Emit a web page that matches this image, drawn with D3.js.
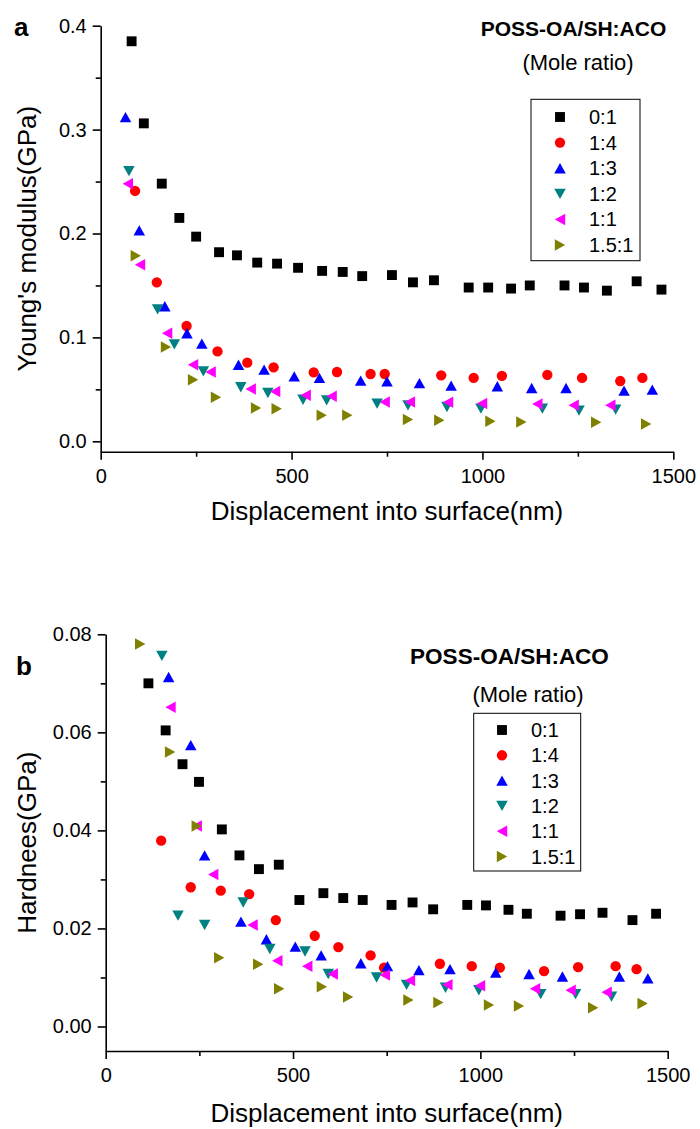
<!DOCTYPE html>
<html><head><meta charset="utf-8">
<script src="https://cdn.jsdelivr.net/npm/d3@7/dist/d3.min.js"></script>
<style>
html,body{margin:0;padding:0;background:#fff;}
svg text{font-family:"Liberation Sans",Arial,sans-serif;fill:#000;}
</style></head>
<body><svg id="chart" width="700" height="1129"></svg>
<script>
// ---------- data ----------
const seriesLabels = ["0:1","1:4","1:3","1:2","1:1","1.5:1"];
const seriesColors = ["#000000","#ff0000","#0000ff","#008080","#ff00ff","#808000"];
const seriesShapes = ["square","circle","up","down","left","right"];

// Panel a: Young's modulus (GPa)
const aX_0_1 = [81,113,160,206,250,310,357,410,462,517,580,634,685,763,818,873,964,1015,1075,1124,1215,1266,1326,1404,1469];
const aY_0_1 = [0.385,0.306,0.248,0.215,0.197,0.182,0.179,0.172,0.171,0.167,0.164,0.163,0.159,0.160,0.153,0.155,0.148,0.148,0.147,0.150,0.150,0.148,0.145,0.154,0.146];
const aX_1_4 = [90,147,225,306,384,453,558,619,707,744,892,977,1051,1170,1261,1361,1419];
const aY_1_4 = [0.241,0.153,0.111,0.0865,0.0757,0.0712,0.0663,0.0667,0.0648,0.0648,0.0635,0.061,0.063,0.064,0.061,0.058,0.061];
const aX_1_3 = [65,101,168,226,265,361,428,507,573,681,750,835,918,1039,1129,1219,1371,1445];
const aY_1_3 = [0.312,0.203,0.130,0.104,0.094,0.0737,0.069,0.0625,0.061,0.0584,0.0577,0.056,0.0536,0.053,0.0513,0.0513,0.0488,0.0497];
const aX_1_2 = [74,149,193,269,367,438,530,592,724,805,907,996,1157,1253,1349];
const aY_1_2 = [0.260,0.127,0.0933,0.0673,0.052,0.0465,0.040,0.0394,0.0363,0.0346,0.033,0.0314,0.0314,0.0295,0.0305];
const aX_1_1 = [71,103,174,242,288,393,457,537,605,744,810,910,999,1144,1239,1335];
const aY_1_1 = [0.248,0.170,0.104,0.0737,0.0667,0.0504,0.048,0.0443,0.0433,0.0379,0.0379,0.0375,0.0363,0.036,0.0346,0.0346];
const aX_15_1 = [92,171,242,302,407,461,579,646,805,887,1021,1102,1298,1429];
const aY_15_1 = [0.1786,0.0908,0.0593,0.0423,0.0321,0.0314,0.025,0.025,0.0209,0.0202,0.0192,0.0186,0.0183,0.0167];

// Panel b: Hardness (GPa)
const bX_0_1 = [114,160,205,249,310,357,409,462,517,581,634,686,763,819,874,965,1015,1075,1124,1214,1266,1326,1406,1469];
const bY_0_1 = [0.0700,0.0604,0.0535,0.0499,0.0402,0.0349,0.0321,0.0330,0.0258,0.0272,0.0262,0.0258,0.0248,0.0253,0.0239,0.0248,0.0247,0.0238,0.0230,0.0226,0.0229,0.0232,0.0217,0.0230];
const bX_1_4 = [148,227,307,383,454,558,621,707,743,892,977,1052,1170,1261,1361,1417];
const bY_1_4 = [0.0379,0.0284,0.0277,0.0270,0.0217,0.0185,0.0162,0.0145,0.0120,0.0128,0.0123,0.0120,0.0113,0.0121,0.0123,0.0117];
const bX_1_3 = [168,227,264,361,429,506,575,681,752,836,919,1041,1130,1219,1371,1447];
const bY_1_3 = [0.0713,0.0574,0.0349,0.0214,0.0178,0.0163,0.0145,0.0129,0.0123,0.0115,0.0117,0.0110,0.0107,0.0102,0.0102,0.0098];
const bX_1_2 = [150,193,264,367,438,532,594,723,803,907,996,1161,1254,1350];
const bY_1_2 = [0.0756,0.0226,0.0207,0.0253,0.0158,0.0153,0.0107,0.0100,0.0085,0.0079,0.0074,0.0066,0.0066,0.0061];
const bX_1_1 = [173,243,287,392,458,538,606,745,812,912,999,1146,1241,1337];
const bY_1_1 = [0.0651,0.0409,0.0310,0.0207,0.0134,0.0123,0.0107,0.0105,0.0094,0.0085,0.0083,0.0077,0.0074,0.0070];
const bX_15_1 = [92,172,243,303,407,463,577,647,808,888,1023,1103,1301,1433];
const bY_15_1 = [0.0780,0.0560,0.0409,0.0140,0.0127,0.0077,0.0081,0.0060,0.0054,0.0049,0.0044,0.0042,0.0038,0.0047];

const xTicksMajor = [0,500,1000,1500];
const xTicksMinor = [250,750,1250];
const aYTicksMajor = [0.0,0.1,0.2,0.3,0.4];
const aYTicksMinor = [0.05,0.15,0.25,0.35];
const bYTicksMajor = [0.00,0.02,0.04,0.06,0.08];
const bYTicksMinor = [0.01,0.03,0.05,0.07];

const svg = d3.select("#chart");

function shapePath(shape, s) {
  const h = s/2;
  switch (shape) {
    case "square": { const q = s*0.43; return `M${-q},${-q}H${q}V${q}H${-q}Z`; }
    case "circle": { const r = s*0.45; return `M${r},0A${r},${r} 0 1,1 ${-r},0A${r},${r} 0 1,1 ${r},0Z`; }
    case "up":    return `M0,${-h*0.9}L${h},${h*0.9}L${-h},${h*0.9}Z`;
    case "down":  return `M0,${h*0.9}L${h},${-h*0.9}L${-h},${-h*0.9}Z`;
    case "left":  return `M${-h*0.9},0L${h*0.9},${-h}L${h*0.9},${h}Z`;
    case "right": return `M${h*0.9},0L${-h*0.9},${-h}L${-h*0.9},${h}Z`;
  }
}

function panel(cfg) {
  const g = svg.append("g");
  const x = d3.scaleLinear().domain([0,1500]).range(cfg.xRange);
  const y = d3.scaleLinear().domain(cfg.yDomain).range(cfg.yRange);
  const y0 = cfg.yRange[0], x0 = cfg.xRange[0];

  // x axis
  g.append("g").attr("transform",`translate(0,${y0})`)
    .call(d3.axisBottom(x).tickValues(xTicksMajor).tickSize(8).tickSizeOuter(0).tickPadding(9).tickFormat(d3.format("d")))
    .call(a => { a.selectAll("text").attr("font-size",20).style("font-family","Liberation Sans, Arial, sans-serif"); a.selectAll("path,line").attr("stroke","#000").attr("stroke-width",1.6); });
  g.append("g").attr("transform",`translate(0,${y0})`)
    .call(d3.axisBottom(x).tickValues(xTicksMinor).tickSize(5).tickSizeOuter(0).tickFormat(""))
    .call(a => { a.select(".domain").remove(); a.selectAll("line").attr("stroke","#000").attr("stroke-width",1.6); });
  // y axis
  g.append("g").attr("transform",`translate(${x0},0)`)
    .call(d3.axisLeft(y).tickValues(cfg.yMajor).tickSize(8).tickSizeOuter(0).tickPadding(6).tickFormat(d3.format(cfg.yFmt)))
    .call(a => { a.selectAll("text").attr("font-size",20).style("font-family","Liberation Sans, Arial, sans-serif"); a.selectAll("path,line").attr("stroke","#000").attr("stroke-width",1.6); });
  g.append("g").attr("transform",`translate(${x0},0)`)
    .call(d3.axisLeft(y).tickValues(cfg.yMinor).tickSize(5).tickSizeOuter(0).tickFormat(""))
    .call(a => { a.select(".domain").remove(); a.selectAll("line").attr("stroke","#000").attr("stroke-width",1.6); });

  // axis titles
  g.append("text").attr("x",(cfg.xRange[0]+cfg.xRange[1])/2).attr("y",cfg.xTitleY)
    .attr("text-anchor","middle").attr("font-size",26).text("Displacement into surface(nm)");
  g.append("text").attr("transform",`translate(${cfg.yTitleX},${(cfg.yRange[0]+cfg.yRange[1])/2}) rotate(-90)`)
    .attr("text-anchor","middle").attr("font-size",26).text(cfg.yTitle);
  // panel letter
  g.append("text").attr("x",cfg.letterX).attr("y",cfg.letterY).attr("font-size",26).attr("font-weight","bold").text(cfg.letter);

  // series
  cfg.series.forEach((s,i) => {
    const pts = s.xs.map((v,j) => [v, s.ys[j]]);
    g.append("g").selectAll("path").data(pts).join("path")
      .attr("d", shapePath(seriesShapes[i], 11.5))
      .attr("transform", d => `translate(${x(d[0])},${y(d[1])})`)
      .attr("fill", seriesColors[i]);
  });

  // legend header
  g.append("text").attr("x",cfg.headX).attr("y",cfg.headY).attr("text-anchor","middle")
    .attr("font-size",cfg.headSize).attr("font-weight","bold").text("POSS-OA/SH:ACO");
  g.append("text").attr("x",cfg.moleX).attr("y",cfg.moleY).attr("text-anchor","middle")
    .attr("font-size",22).text("(Mole ratio)");
  // legend box
  const L = cfg.legend;
  g.append("rect").attr("x",L.x).attr("y",L.y).attr("width",L.w).attr("height",L.h)
    .attr("fill","none").attr("stroke","#000").attr("stroke-width",1);
  seriesLabels.forEach((lab,i) => {
    const cy = L.first + i*L.step;
    g.append("path").attr("d", shapePath(seriesShapes[i], 11.5))
      .attr("transform",`translate(${L.symX},${cy})`).attr("fill",seriesColors[i]);
    g.append("text").attr("x",L.textX).attr("y",cy+7).attr("font-size",20).text(lab);
  });
}

panel({
  xRange:[100.7,673.3], yDomain:[-0.01,0.4], yRange:[451.7,25.7],
  yMajor:aYTicksMajor, yMinor:aYTicksMinor, yFmt:".1f",
  xTitleY:520, yTitleX:36, yTitle:"Young's modulus(GPa)",
  letter:"a", letterX:14, letterY:36,
  headX:573.5, headY:36, headSize:21, moleX:578, moleY:70,
  legend:{x:531,y:99.3,w:109,h:161.4,first:117,step:25.6,symX:560,textX:589},
  series:[{xs:aX_0_1,ys:aY_0_1},{xs:aX_1_4,ys:aY_1_4},{xs:aX_1_3,ys:aY_1_3},{xs:aX_1_2,ys:aY_1_2},{xs:aX_1_1,ys:aY_1_1},{xs:aX_15_1,ys:aY_15_1}]
});
panel({
  xRange:[105.7,667.7], yDomain:[-0.005,0.08], yRange:[1051,634.3],
  yMajor:bYTicksMajor, yMinor:bYTicksMinor, yFmt:".2f",
  xTitleY:1121.7, yTitleX:36, yTitle:"Hardnees(GPa)",
  letter:"b", letterX:16, letterY:675,
  headX:509.5, headY:664, headSize:22.5, moleX:528, moleY:701.7,
  legend:{x:473.7,y:713.3,w:107,h:157.7,first:730,step:25.3,symX:502,textX:531},
  series:[{xs:bX_0_1,ys:bY_0_1},{xs:bX_1_4,ys:bY_1_4},{xs:bX_1_3,ys:bY_1_3},{xs:bX_1_2,ys:bY_1_2},{xs:bX_1_1,ys:bY_1_1},{xs:bX_15_1,ys:bY_15_1}]
});
</script></body></html>
